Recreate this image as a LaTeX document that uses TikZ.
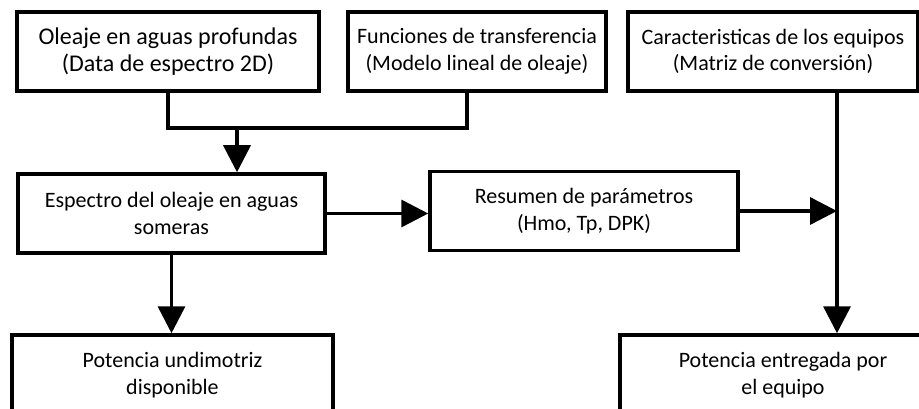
\documentclass[tikz,border=0pt]{standalone}
\usepackage{fontspec}
\setmainfont{Carlito}
\usetikzlibrary{arrows.meta}

\begin{document}
\begin{tikzpicture}[x=1pt,y=-1pt,line width=3.5pt,
    caja/.style={draw,inner sep=0pt,align=center,minimum height=79pt,
        font=\fontsize{22}{26.7}\selectfont},
    flecha/.style={-{Triangle[length=27pt,width=27pt]}}]
\path [use as bounding box] (0,0) rectangle (919,409);
\clip (0,0) rectangle (919,409);
\draw
    node [caja,minimum width=302pt,font=\fontsize{24}{26.7}\selectfont]
        at (168,51.5) (oleaje) {Oleaje en aguas profundas\\(Data de espectro 2D)}
    node [caja,minimum width=258pt] at (477,51.5) (funciones)
        {Funciones de transferencia\\(Modelo lineal de oleaje)}
    node [caja,minimum width=290pt] at (773,51.5) (caract)
        {Caracteristicas de los equipos\\(Matriz de conversión)};
\draw
    node [caja,minimum width=307pt] at (171.5,213.5) (espectro)
        {Espectro del oleaje en aguas\\someras}
    node [caja,minimum width=308pt] at (584,211) (resumen)
        {Resumen de parámetros\\(Hmo, Tp, DPK)};
\draw
    node [caja,minimum width=321pt,minimum height=80pt] at (172.5,375) (undimotriz)
        {Potencia undimotriz\\disponible}
    node [caja,minimum width=326pt,minimum height=80pt] at (783,375) (entregada)
        {Potencia entregada por\\el equipo};
\coordinate (union) at (237,128);
\coordinate (bajada) at ([xshift=64pt]caract.south);
\draw (oleaje.south) -- (oleaje.south |- union) -| ([xshift=-10pt]funciones.south);
\draw [flecha] (union) -- (union |- espectro.north);
\draw [flecha] (espectro.east) -- (espectro.east -| resumen.west);
\draw [flecha] (resumen.east) -- (resumen.east -| bajada);
\draw [flecha] (bajada) -- (bajada |- entregada.north);
\draw [flecha] (espectro.south) -- (espectro.south |- undimotriz.north);
\end{tikzpicture}
\end{document}
